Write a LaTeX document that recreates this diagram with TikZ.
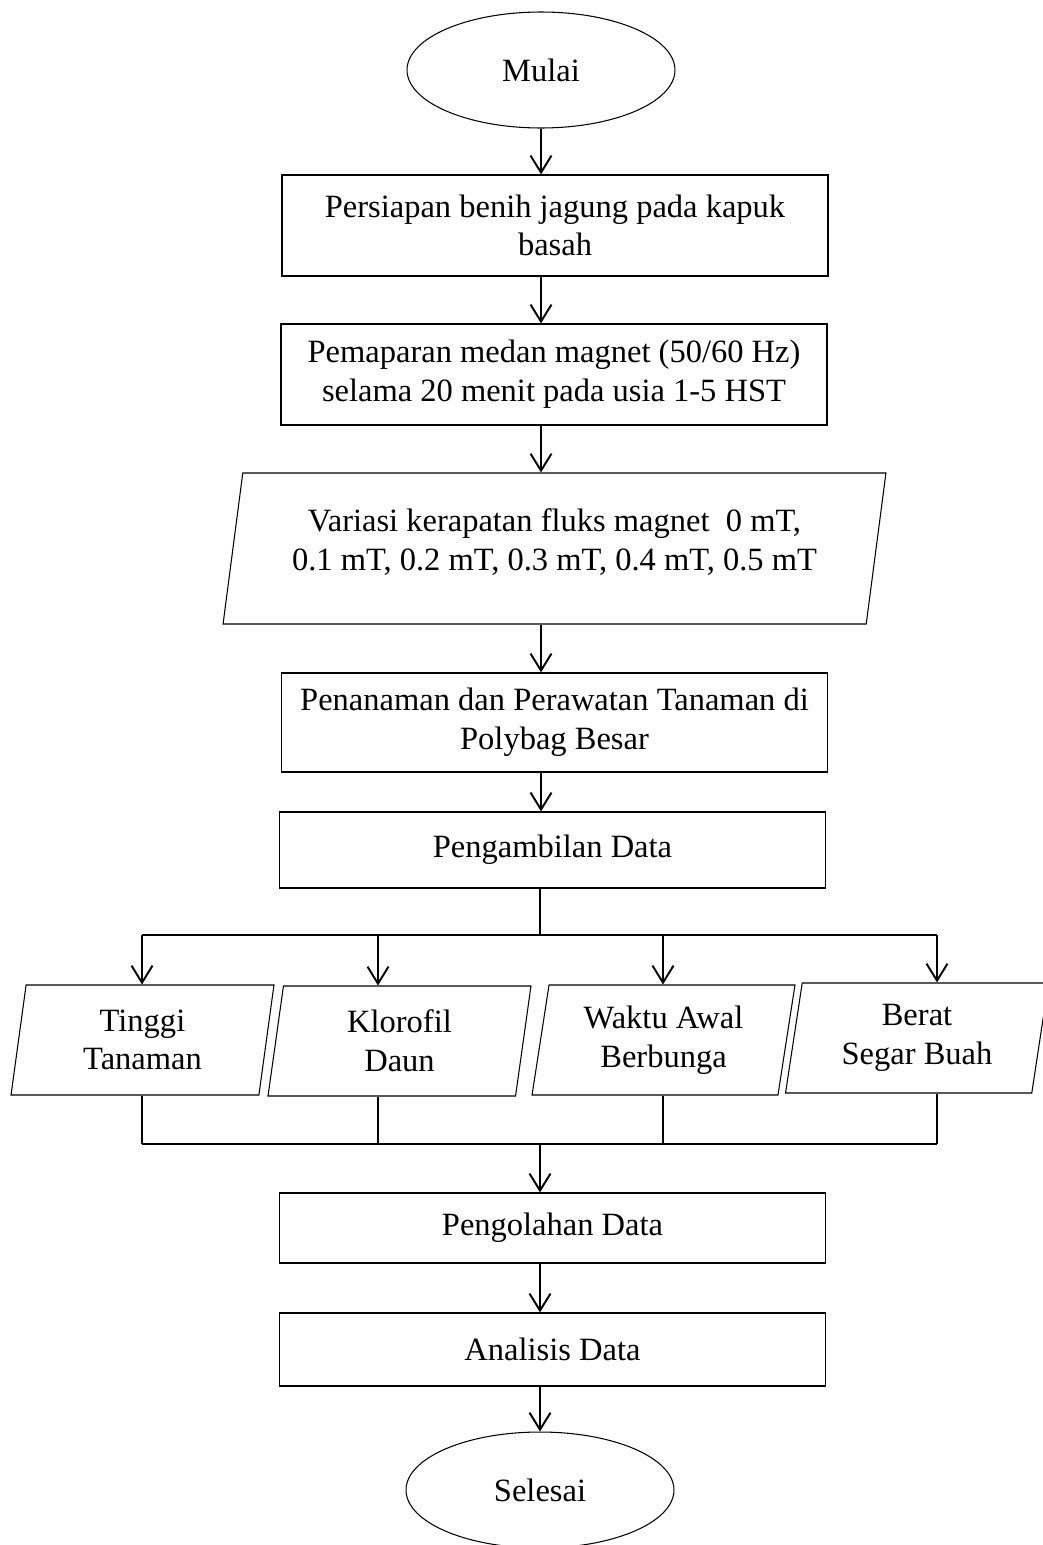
\documentclass[tikz,border=0pt]{standalone}
\usepackage{fontspec}
\setmainfont{Liberation Serif}
\usetikzlibrary{positioning,shapes.geometric,arrows.meta}

\begin{document}
\begin{tikzpicture}[
    x=0.02cm, y=-0.02cm,
    every node/.style={font=\fontsize{18.5}{22}\selectfont},
    box/.style={draw, line width=0.7pt, minimum width=10.92cm, align=center, inner sep=0pt},
    term/.style={ellipse, draw, line width=0.6pt, minimum width=5.36cm, minimum height=2.32cm, inner sep=0pt},
    io/.style={trapezium, trapezium left angle=76, trapezium right angle=104,
      trapezium stretches body=true, draw, line width=0.6pt, align=center, inner sep=0pt},
    line/.style={draw, line width=1.1pt},
    arr/.style={line, -{Straight Barb[length=3.4mm, width=4.2mm, line width=1.1pt]}}
  ]
    \useasboundingbox (0,0) rectangle (1043,1545);
    % main column
    \node[term] (mulai) at (541,70) {Mulai};
    \node[box, minimum height=2.02cm] (persiapan) at (555,225.5) {Persiapan benih jagung pada kapuk\\basah};
    \node[box, minimum height=2.02cm] (pemaparan) at (554,374.5) {Pemaparan medan magnet (50/60 Hz)\\selama 20 menit pada usia 1-5 HST};
    \node[io, minimum width=13.26cm, minimum height=3.02cm] (variasi) at (554.5,548.5)
      {Variasi kerapatan fluks magnet~~0 mT,\\0.1 mT, 0.2 mT, 0.3 mT, 0.4 mT, 0.5 mT\\[-12pt]};
    \node[box, minimum height=1.98cm] (penanaman) at (554.5,722.5) {Penanaman dan Perawatan Tanaman di\\Polybag Besar};
    \node[box, minimum height=1.52cm] (pengambilan) at (552.5,850) {Pengambilan Data};
    % measured variables
    \node[io, minimum width=5.26cm, minimum height=2.2cm] (tinggi) at (142.5,1040) {Tinggi\\Tanaman};
    \node[io, minimum width=5.26cm, minimum height=2.2cm] (klorofil) at (399.5,1041) {Klorofil\\Daun};
    \node[io, minimum width=5.26cm, minimum height=2.2cm] (waktu) at (663.5,1040) {Waktu Awal\\Berbunga};
    \node[io, minimum width=5.26cm, minimum height=2.2cm] (berat) at (917,1038) {Berat\\Segar Buah};
    \node[box, minimum height=1.40cm] (pengolahan) at (552.5,1228) {Pengolahan Data};
    \node[box, minimum height=1.46cm] (analisis) at (552.5,1349.5) {Analisis Data};
    \node[term] (selesai) at (540,1490) {Selesai};

    \coordinate (axis) at (541,0);
    \coordinate (split) at (540,935);
    \coordinate (merge) at (540,1144);

    \draw[arr] (mulai.south) -- (mulai.south |- persiapan.north);
    \draw[arr] (persiapan.south -| axis) -- (pemaparan.north -| axis);
    \draw[arr] (pemaparan.south -| axis) -- (variasi.north -| axis);
    \draw[arr] (variasi.south -| axis) -- (penanaman.north -| axis);
    \draw[arr] (penanaman.south -| axis) -- (pengambilan.north -| axis);
    \draw[line] (pengambilan.south -| split) -- (split);

    \foreach \n/\x in {tinggi/142, klorofil/378, waktu/663, berat/937} {
      \coordinate (top-\n) at (\x,935);
      \coordinate (bot-\n) at (\x,1144);
      \draw[arr] (top-\n) -- (top-\n |- \n.north);
      \draw[line] (\n.south -| bot-\n) -- (bot-\n);
    }
    \draw[line] (top-tinggi) -- (top-berat);
    \draw[line] (bot-tinggi) -- (bot-berat);

    \draw[arr] (merge) -- (pengolahan.north -| merge);
    \draw[arr] (pengolahan.south -| split) -- (analisis.north -| split);
    \draw[arr] (analisis.south -| split) -- (selesai.north);
\end{tikzpicture}
\end{document}
